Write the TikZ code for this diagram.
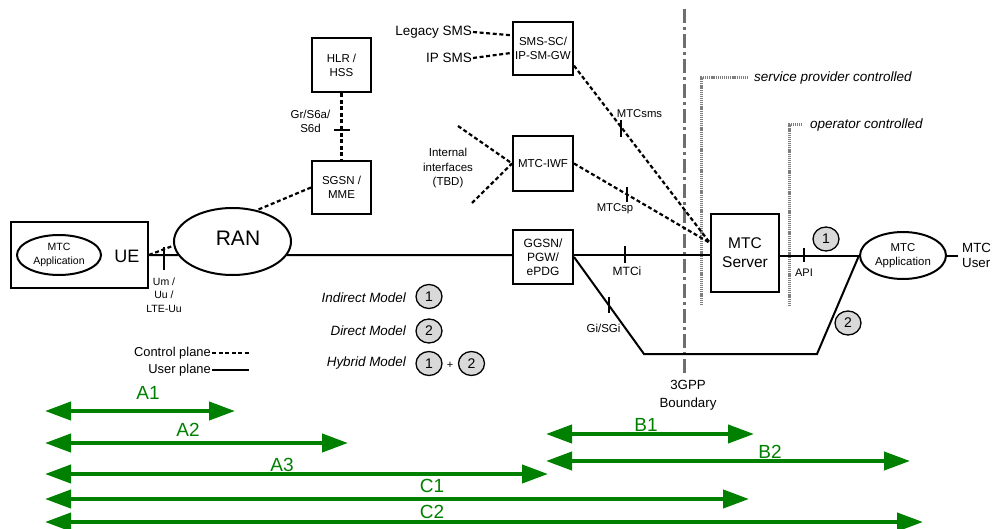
\documentclass[tikz,border=0pt]{standalone}
\usepackage{fontspec}
\setmainfont{Liberation Sans}
\usetikzlibrary{shapes.geometric,arrows.meta}
\definecolor{gline}{HTML}{008000}
\definecolor{cfill}{HTML}{D9D9D9}
\definecolor{bndgray}{HTML}{6E6E6E}
\definecolor{dotgray}{HTML}{7F7F7F}
\newcommand{\fs}[2]{\fontsize{#1}{#2}\selectfont}
\begin{document}
\begin{tikzpicture}[x=1pt,y=-1pt,
  box/.style={draw,line width=2pt,inner sep=0pt,align=center},
  ell/.style={draw,ellipse,line width=2pt,inner sep=0pt,align=center},
  txt/.style={inner sep=1pt,align=center},
  uline/.style={line width=2pt},
  cline/.style={line width=2.2pt,dash pattern=on 4pt off 2.6pt},
  tickmark/.style={line width=1.7pt},
  gdot/.style={draw=dotgray,line width=3pt,dash pattern=on 1.2pt off 0.9pt},
  bnd/.style={draw=bndgray,line width=3pt,dash pattern=on 14pt off 4pt on 3pt off 4pt},
  numc/.style={draw,ellipse,fill=cfill,line width=1.3pt,minimum width=26pt,minimum height=24pt,inner sep=0pt,font=\fs{14}{16}},
  garrow/.style={draw=gline,line width=4pt,{Triangle[length=26pt,width=18pt]}-{Triangle[length=26pt,width=18pt]}},
  glabel/.style={text=gline,inner sep=0pt,font=\fs{19}{21}}
]
\useasboundingbox (0,0) rectangle (992,529);

% UE side
\node[box,minimum width=137pt,minimum height=65pt] (uebox) at (79.5,255) {};
\node[ell,minimum width=84pt,minimum height=40pt,font=\fs{10.5}{14}] (app1) at (59,255) {MTC\\Application};
\node[txt,font=\fs{18}{20}] (ue) at (127,256) {UE};
\node[ell,minimum width=117pt,minimum height=67pt] (ran) at (232.5,241.5) {};
\node[txt,font=\fs{21}{24}] (rantxt) at (238,238) {RAN};
\node[txt,font=\fs{10.5}{13.5}] (umlbl) at (164,295) {Um /\\Uu /\\LTE-Uu};

% HLR / SGSN
\node[box,minimum width=59pt,minimum height=54pt,font=\fs{11.5}{14}] (hlr) at (341.5,65) {HLR /\\HSS};
\node[box,minimum width=59pt,minimum height=53pt,font=\fs{11.5}{14}] (sgsn) at (341.5,187.5) {SGSN /\\MME};
\node[txt,font=\fs{11.5}{13.5}] (grlbl) at (310.5,121.5) {Gr/S6a/\\S6d};

% SMS
\node[box,minimum width=60pt,minimum height=53pt,font=\fs{11.5}{13.5}] (sms) at (543,48.5) {SMS-SC/\\IP-SM-GW};
\node[txt,anchor=east,font=\fs{13.5}{16}] (legacy) at (473,32) {Legacy SMS};
\node[txt,anchor=east,font=\fs{13.5}{16}] (ipsms) at (473,58) {IP SMS};

% MTC-IWF
\node[box,minimum width=60pt,minimum height=55pt,font=\fs{11.5}{14}] (iwf) at (543,163.5) {MTC-IWF};
\coordinate (int1) at (458,126);
\coordinate (int2) at (472,203);
\node[txt,font=\fs{11.5}{14.5}] (intlbl) at (448,168.5) {Internal\\interfaces\\(TBD)};

% GGSN, server, application
\node[box,minimum width=60pt,minimum height=54pt,font=\fs{12}{14}] (ggsn) at (543,257) {GGSN/\\PGW/\\ePDG};
\node[box,minimum width=68pt,minimum height=78pt,font=\fs{15.5}{19}] (srv) at (745,253) {MTC\\Server};
\node[ell,minimum width=86pt,minimum height=47pt,font=\fs{11.4}{14}] (app2) at (903,255.5) {MTC\\Application};
\node[txt,anchor=west,align=left,font=\fs{13.3}{15}] (user) at (961,255) {MTC\\User};
\coordinate (lvl) at (0,255);
\coordinate (g1) at (644,354);
\coordinate (g2) at (817,354);

% 3GPP boundary and control regions
\draw[bnd] (684,9) -- (684,373);
\node[txt,font=\fs{13.3}{18}] (bndlbl) at (688,395) {3GPP\\Boundary};
\draw[gdot] (701,305) -- (701,78) -- (748,78);
\node[txt,anchor=west,font=\fs{13.5}{16}\itshape] (splbl) at (753,78) {service provider controlled};
\draw[gdot] (789,306) -- (789,125) -- (803,125);
\node[txt,anchor=west,font=\fs{13.5}{16}\itshape] (oplbl) at (809,125) {operator controlled};

% user plane
\draw[uline] (uebox.east |- lvl) -- (ran.194);
\draw[uline] (ran.346) -- (ggsn.west |- lvl);
\draw[uline] (ggsn.east |- lvl) -- (srv.west |- lvl);
\draw[uline] (srv.east |- app2.west) -- (app2.west);
\draw[uline] (app2.east) -- ++(11,0);
\draw[uline] (ggsn.east) -- (g1) -- (g2) -- (app2.west);

% control plane
\draw[cline] (uebox.east) -- (ran.184);
\draw[cline] (sgsn.west) -- (ran.52);
\draw[cline] (hlr) -- (sgsn);
\draw[cline] (legacy.east) -- (sms.157);
\draw[cline] (ipsms.east) -- (sms.188);
\draw[cline] (int1) -- (iwf.west);
\draw[cline] (int2) -- (iwf.west);
\draw[cline] (sms.-29) -- (srv.164);
\draw[cline] (iwf.east) -- (srv.164);

% interface ticks and labels
\draw[tickmark] (164,247) -- (164,270);
\draw[tickmark] (334,130) -- (350,130);
\draw[tickmark] (625,246) -- (625,263);
\node[txt,font=\fs{12}{14}] (mtci) at (627,271) {MTCi};
\draw[tickmark] (609,297) -- (609,313);
\node[txt,font=\fs{11.5}{14}] (gilbl) at (603.5,328) {Gi/SGi};
\draw[tickmark] (621,120) -- (621,137);
\node[txt,font=\fs{11.3}{14}] (smslbl) at (639.5,114) {MTCsms};
\draw[tickmark] (627,187) -- (627,202);
\node[txt,font=\fs{11.3}{14}] (splbl2) at (615,209) {MTCsp};
\draw[tickmark] (804,248) -- (804,262);
\node[txt,font=\fs{11}{13}] (apilbl) at (804,273) {API};

\node[numc] (c1) at (826,239) {1};
\node[numc] (c2) at (848,323) {2};

% legend
\node[txt,anchor=east,font=\fs{13.4}{16}\itshape] (ind) at (407,298) {Indirect Model};
\node[numc] (l1) at (429,296.5) {1};
\node[txt,anchor=east,font=\fs{13.4}{16}\itshape] (dir) at (407,331) {Direct Model};
\node[numc] (l2) at (429,331) {2};
\node[txt,anchor=east,font=\fs{13.4}{16}\itshape] (hyb) at (407,363) {Hybrid Model};
\node[numc] (l3) at (429,363.5) {1};
\node[txt,font=\fs{11}{13}] (plus) at (450,365) {+};
\node[numc] (l4) at (471.5,363.5) {2};
\node[txt,anchor=east,font=\fs{12.9}{15}] (cp) at (212,353) {Control plane};
\draw[cline] (cp.east) -- ++(37,0);
\node[txt,anchor=east,font=\fs{12.9}{15}] (up) at (212,370) {User plane};
\draw[uline] (up.east) -- ++(37,0);

% green ranges
\coordinate (a1l) at (45,411); \coordinate (a1r) at (235,411);
\coordinate (a2l) at (45,443); \coordinate (a2r) at (348,443);
\coordinate (a3l) at (45,474); \coordinate (a3r) at (548,474);
\coordinate (c1l) at (45,499); \coordinate (c1r) at (749,499);
\coordinate (c2l) at (45,522); \coordinate (c2r) at (923,522);
\coordinate (b1l) at (546,434); \coordinate (b1r) at (754,434);
\coordinate (b2l) at (546,461); \coordinate (b2r) at (910,461);
\draw[garrow] (a1l) -- (a1r);
\draw[garrow] (a2l) -- (a2r);
\draw[garrow] (a3l) -- (a3r);
\draw[garrow] (c1l) -- (c1r);
\draw[garrow] (c2l) -- (c2r);
\draw[garrow] (b1l) -- (b1r);
\draw[garrow] (b2l) -- (b2r);
\node[glabel] (ta1) at (148,393) {A1};
\node[glabel] (ta2) at (188,430) {A2};
\node[glabel] (ta3) at (282,465) {A3};
\node[glabel] (tc1) at (432,486) {C1};
\node[glabel] (tc2) at (432,512) {C2};
\node[glabel] (tb1) at (646,425) {B1};
\node[glabel] (tb2) at (770,452) {B2};
\end{tikzpicture}
\end{document}
